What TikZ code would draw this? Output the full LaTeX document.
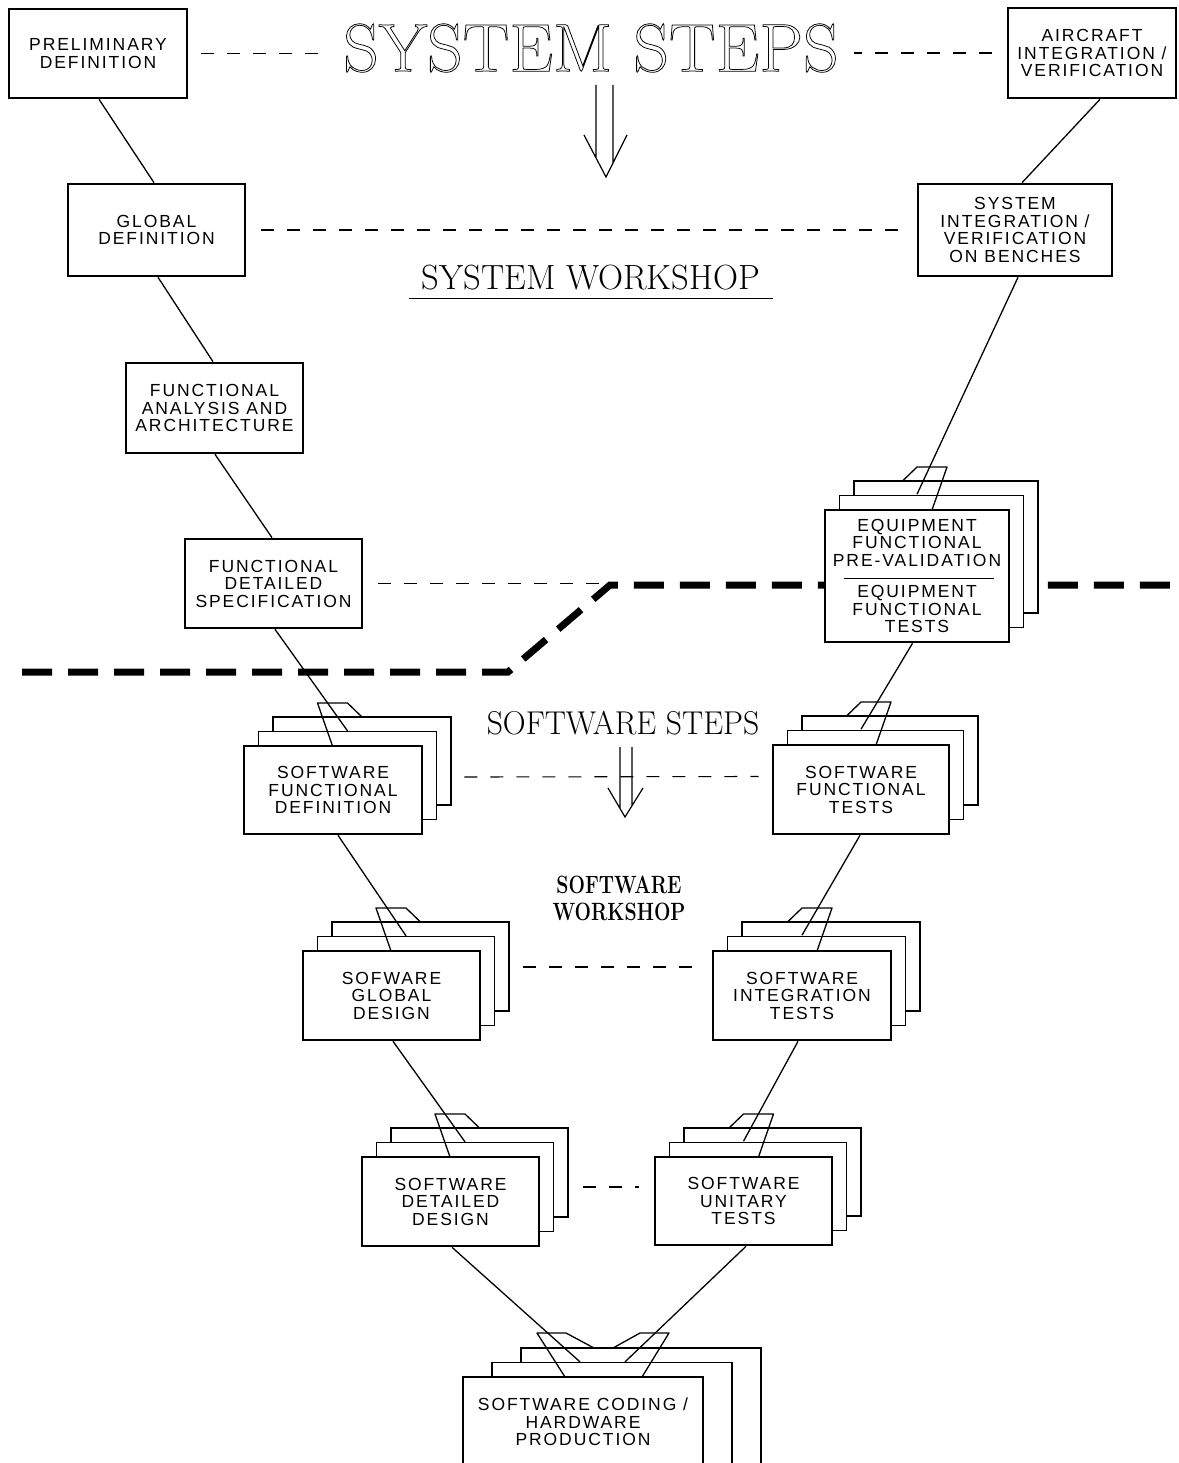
\documentclass[tikz,border=0pt]{standalone}
\usepackage{fontspec}
\newfontfamily\boxfont[LetterSpace=11]{Liberation Sans}
\newcommand\stackpages[6]{%
  \node[page,minimum width=#4,minimum height=#5] (#1b) at ({#2+2*#6},{#3-29}) {};
  \node[page,minimum width=#4,minimum height=#5] (#1m) at ({#2+#6},{#3-14.5}) {};}
\newcommand\tabR[2]{\draw[link] ({#1-14.5},{#2-29}) -- (#1,{#2-43}) -- ({#1+30},{#2-43}) -- ({#1+15},#2);}
\newcommand\tabL[2]{\draw[link] ({#1+14.5},{#2-29}) -- (#1,{#2-43}) -- ({#1-30},{#2-43}) -- ({#1-15},#2);}
\newcommand\outlinetext[1]{\special{pdf:code q 1 Tr 0.75 w}#1\special{pdf:code Q}}
\begin{document}
\begin{tikzpicture}[x=1pt,y=-1pt,
  box/.style={draw,line width=2.6pt,fill=white,inner sep=0pt,align=center,font=\boxfont\fontsize{17.5}{17.5}\selectfont},
  page/.style={draw,line width=1.3pt,fill=white,inner sep=0pt},
  link/.style={line width=1.3pt,line join=round},
  thindash/.style={line width=1.1pt,dash pattern=on 13pt off 13pt},
  bigdash/.style={line width=7pt,dash pattern=on 30pt off 16pt},
  arrowline/.style={line width=1.2pt},
  title/.style={inner sep=0pt},
]
\useasboundingbox (0,0) rectangle (1178,1463);
\fill[white] (0,0) rectangle (1178,1463);

% titles
\node[title] (sysstep) at (591,48) {\fontsize{68}{70}\selectfont\scalebox{1.025}[1]{\outlinetext{SYSTEM STEPS}}};
\node[title] (sysws) at (591,277.5) {\fontsize{35}{40}\selectfont\scalebox{0.99}[1]{SYSTEM WORKSHOP}};
\draw[link] ([xshift=-13pt,yshift=-8pt]sysws.south west) -- ([xshift=13pt,yshift=-8pt]sysws.south east);
\node[title] (swsteps) at (623,723.5) {\fontsize{33}{36}\selectfont\scalebox{0.96}[1]{SOFTWARE STEPS}};
\node[title,align=center,font=\fontsize{25}{27}\selectfont\bfseries] (swws) at (619,898) {\scalebox{0.78}[1]{SOFTWARE}\\\scalebox{0.78}[1]{WORKSHOP}};

% open down arrows
\draw[arrowline] (596,85) -- (596,158) (613,85) -- (613,163) (584,135) -- (606,177) -- (627,135);
\draw[arrowline] (620,747) -- (620,808) (632,747) -- (632,806) (608,788) -- (625,817) -- (643,788);

% thick boundary line
\draw[bigdash] (22,672) -- (508,672) -- (610,585) -- (1178,585);

% system boxes
\node[box,minimum width=178,minimum height=89] (prelim) at (98,53.5) {PRELIMINARY\\DEFINITION};
\node[box,minimum width=177,minimum height=92] (global) at (156.5,230) {GLOBAL\\DEFINITION};
\node[box,minimum width=177,minimum height=90] (funca) at (214.5,408) {FUNCTIONAL\\ANALYSIS AND\\ARCHITECTURE};
\node[box,minimum width=177,minimum height=89] (fds) at (273.5,583.5) {FUNCTIONAL\\DETAILED\\SPECIFICATION};
\node[box,minimum width=168,minimum height=90] (aircraft) at (1092,53) {AIRCRAFT\\INTEGRATION /\\VERIFICATION};
\node[box,minimum width=194,minimum height=92] (sysint) at (1015,230) {SYSTEM\\INTEGRATION /\\VERIFICATION\\ON BENCHES};

% thin dashed correspondences
\draw[thindash] ([xshift=13pt]prelim.east) -- ++(118,0);
\draw[thindash] ([xshift=-15pt]aircraft.west) -- ++(-138,0);
\draw[thindash] ([xshift=15pt]global.east) -- ([xshift=-15pt]sysint.west);
\draw[thindash] ([xshift=15pt]fds.east) -- ++(228,0);

% system connectors
\draw[link] ([xshift=1pt]prelim.south) -- ([xshift=-2.5pt]global.north);
\draw[link] ([xshift=1.5pt]global.south) -- ([xshift=-1.5pt]funca.north);
\draw[link] ([xshift=0.5pt]funca.south) -- ([xshift=-1.5pt]fds.north);
\draw[link] ([xshift=8pt]aircraft.south) -- ([xshift=7pt]sysint.north);

% equipment stack
\stackpages{equip}{917}{576}{184}{132}{14.5}
\node[box,minimum width=184,minimum height=132] (equip) at (917,576) {EQUIPMENT\\FUNCTIONAL\\PRE-VALIDATION\\[14pt]EQUIPMENT\\FUNCTIONAL\\TESTS};
\draw[line width=1pt] ([xshift=20pt,yshift=-2pt]equip.west) -- ([xshift=-16pt,yshift=-2pt]equip.east);
\tabR{917}{510}
\draw[link] ([xshift=3pt]sysint.south) -- ([yshift=14.5pt]equip.north);

% software stacks, left column
\stackpages{sfd}{333}{790}{178}{88}{14.5}
\node[box,minimum width=178,minimum height=88] (sfd) at (333,790) {SOFTWARE\\FUNCTIONAL\\DEFINITION};
\tabL{347.5}{746}
\draw[link] ([xshift=1.5pt]fds.south) -- (sfdm.north);

\stackpages{sgd}{391.5}{995.5}{177}{89}{14.5}
\node[box,minimum width=177,minimum height=89] (sgd) at (391.5,995.5) {SOFWARE\\GLOBAL\\DESIGN};
\tabL{406}{951}
\draw[link] ([xshift=5pt]sfd.south) -- (sgdm.north);

\stackpages{sdd}{450.5}{1201.5}{177}{89}{14.5}
\node[box,minimum width=177,minimum height=89] (sdd) at (450.5,1201.5) {SOFTWARE\\DETAILED\\DESIGN};
\tabL{465}{1157}
\draw[link] ([xshift=1.5pt]sgd.south) -- (sddm.north);

% software stacks, right column
\stackpages{sft}{861}{789.5}{176}{89}{14.5}
\node[box,minimum width=176,minimum height=89] (sft) at (861,789.5) {SOFTWARE\\FUNCTIONAL\\TESTS};
\tabR{861}{745}
\draw[link] ([xshift=-4.5pt]equip.south) -- ([yshift=14.5pt]sft.north);

\stackpages{sit}{802}{995.5}{178}{89}{14.5}
\node[box,minimum width=178,minimum height=89] (sit) at (802,995.5) {SOFTWARE\\INTEGRATION\\TESTS};
\tabR{802}{951}
\draw[link] ([xshift=-1pt]sft.south) -- ([yshift=14.5pt]sit.north);

\stackpages{sut}{743.5}{1201}{177}{88}{14.5}
\node[box,minimum width=177,minimum height=88] (sut) at (743.5,1201) {SOFTWARE\\UNITARY\\TESTS};
\tabR{743.5}{1157}
\draw[link] ([xshift=-4pt]sit.south) -- ([yshift=14.5pt]sut.north);

% software dashed correspondences
\draw[thindash] ([shift={(41pt,13pt)}]sfd.east) -- ([shift={(-13pt,13pt)}]sft.west);
\draw[thindash] ([shift={(42pt,28.5pt)}]sgd.east) -- ([shift={(-13pt,28.5pt)}]sit.west);
\draw[thindash] ([shift={(43pt,14.5pt)}]sdd.east) -- ([shift={(-15pt,14pt)}]sut.west);

% coding stack
\node[page,minimum width=240,minimum height=130] (codingb) at (641,1413) {};
\node[page,minimum width=240,minimum height=130] (codingm) at (612,1427.5) {};
\node[box,minimum width=240,minimum height=90] (coding) at (583,1422) {SOFTWARE CODING /\\HARDWARE\\PRODUCTION};
\draw[link] (594,1348) -- (566,1333) -- (537,1333) -- (565,1377);
\draw[link] (613,1348) -- (640,1333) -- (669,1333) -- (642,1377);
\draw[link] ([xshift=1.5pt]sdd.south) -- ([xshift=-32pt]codingm.north);
\draw[link] ([xshift=2.5pt]sut.south) -- ([xshift=13pt]codingm.north);
\end{tikzpicture}
\end{document}
